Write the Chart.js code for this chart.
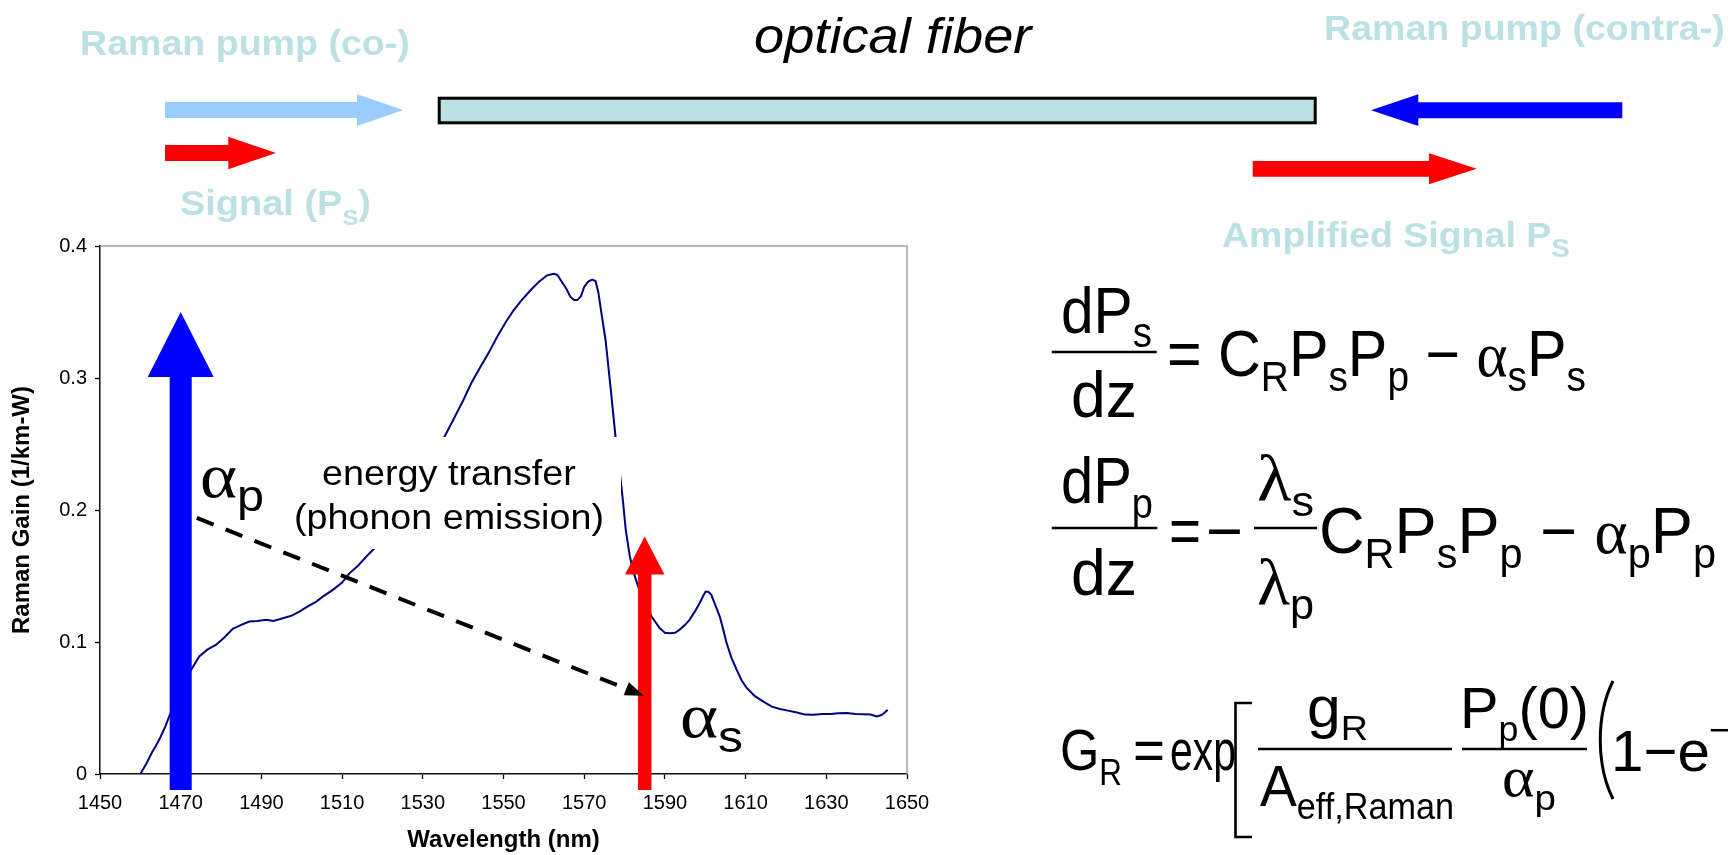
<!DOCTYPE html>
<html>
<head>
<meta charset="utf-8">
<title>Raman gain</title>
<script src="https://cdn.jsdelivr.net/npm/chart.js@4.4.0/dist/chart.umd.min.js"></script>
<style>
  html, body { margin: 0; padding: 0; background: #fff; width: 1728px; height: 855px; overflow: hidden; }
  #wrap { position: relative; width: 1728px; height: 855px; }
  #gainChart { position: absolute; left: 0; top: 200px; }
  #overlay { position: absolute; left: 0; top: 0; pointer-events: none; }
</style>
</head>
<body>
<div id="wrap">
<canvas id="gainChart" width="960" height="655"></canvas>
<svg id="overlay" width="1728" height="855" xmlns="http://www.w3.org/2000/svg" font-family="'Liberation Sans', Arial, sans-serif">
  <!-- fiber diagram -->
  <g font-weight="bold" fill="#BCE1E4" font-size="35">
    <text y="55" data-fit="80 330">Raman pump (co-)</text>
    <text y="215" data-fit="180 191">Signal (P<tspan font-size="22" dy="10">S</tspan><tspan dy="-10">)</tspan></text>
    <text y="40" data-fit="1324 401">Raman pump (contra-)</text>
    <text y="246.7" data-fit="1222 348">Amplified Signal P<tspan font-size="26" dy="10">S</tspan></text>
  </g>
  <text y="53" font-size="50" font-style="italic" data-fit="754 280">optical fiber</text>
  <rect x="439.2" y="98.2" width="876" height="24.6" fill="#BCE1E4" stroke="#000" stroke-width="3"/>
  <polygon points="165,102 357,102 357,94.3 403.3,110 357,126 357,118 165,118" fill="#99CCFF"/>
  <polygon points="165,145 228.3,145 228.3,136.7 276,153 228.3,169.3 228.3,161 165,161" fill="#FF0000"/>
  <polygon points="1371,110.3 1418.3,94.3 1418.3,102.3 1622.3,102.3 1622.3,118.3 1418.3,118.3 1418.3,126" fill="#0000FF"/>
  <polygon points="1252.7,161 1429,161 1429,153.3 1476.7,168.8 1429,184.3 1429,176.7 1252.7,176.7" fill="#FF0000"/>

  <!-- chart annotations -->
  <rect x="288" y="437" width="333" height="112" fill="#fff"/>
  <text y="485" font-size="36" data-fit="322 254">energy transfer</text>
  <text y="529" font-size="36" data-fit="294 310">(phonon emission)</text>
  <text y="497" data-fit="200 64"><tspan font-family="'Liberation Serif', serif" font-size="64">α</tspan><tspan font-size="44" dy="14">p</tspan></text>
  <text y="737" data-fit="680 63"><tspan font-family="'Liberation Serif', serif" font-size="64">α</tspan><tspan font-size="44" dy="15">s</tspan></text>

  <!-- equation 1 -->
  <text y="333" font-size="64" data-fit="1061 91">dP<tspan font-size="42" dy="14">s</tspan></text>
  <line x1="1051.7" x2="1156.7" y1="352" y2="352" stroke="#000" stroke-width="2.6"/>
  <text y="417" font-size="64" data-fit="1071 66">dz</text>
  <text y="376" font-size="64" data-fit="1167 419">= C<tspan font-size="42" dy="15">R</tspan><tspan dy="-15">P</tspan><tspan font-size="42" dy="15">s</tspan><tspan dy="-15">P</tspan><tspan font-size="42" dy="15">p</tspan><tspan dy="-15"> − </tspan><tspan font-family="'Liberation Serif', serif">α</tspan><tspan font-size="42" dy="15">s</tspan><tspan dy="-15">P</tspan><tspan font-size="42" dy="15">s</tspan></text>

  <!-- equation 2 -->
  <text y="503" font-size="64" data-fit="1061 92">dP<tspan font-size="42" dy="15">p</tspan></text>
  <line x1="1051.7" x2="1157.3" y1="528" y2="528" stroke="#000" stroke-width="2.6"/>
  <text y="595" font-size="64" data-fit="1071 66">dz</text>
  <text y="553" font-size="64" data-fit="1169 32">=</text>
  <text y="553" font-size="64" data-fit="1206 37">−</text>
  <line x1="1254" x2="1317" y1="528" y2="528" stroke="#000" stroke-width="2.6"/>
  <text y="500" data-fit="1257 57"><tspan font-family="'Liberation Serif', serif" font-size="66">λ</tspan><tspan font-size="42" dy="16">s</tspan></text>
  <text y="604" data-fit="1257 57"><tspan font-family="'Liberation Serif', serif" font-size="66">λ</tspan><tspan font-size="42" dy="15">p</tspan></text>
  <text y="553" font-size="64" data-fit="1319 397">C<tspan font-size="42" dy="15">R</tspan><tspan dy="-15">P</tspan><tspan font-size="42" dy="15">s</tspan><tspan dy="-15">P</tspan><tspan font-size="42" dy="15">p</tspan><tspan dy="-15"> − </tspan><tspan font-family="'Liberation Serif', serif">α</tspan><tspan font-size="42" dy="15">p</tspan><tspan dy="-15">P</tspan><tspan font-size="42" dy="15">p</tspan></text>

  <!-- equation 3 -->
  <text y="770" font-size="58" data-fit="1060 62">G<tspan font-size="36" dy="15">R</tspan></text>
  <text y="770" font-size="58" data-fit="1133 32">=</text>
  <text y="770" font-size="58" data-fit="1170 66">exp</text>
  <path d="M1252 703 H1235.5 V837 H1252" fill="none" stroke="#000" stroke-width="2.6"/>
  <line x1="1258" x2="1452" y1="749" y2="749" stroke="#000" stroke-width="2.4"/>
  <text y="727" font-size="58" data-fit="1307 61">g<tspan font-size="36" dy="13">R</tspan></text>
  <text y="806" font-size="58" data-fit="1260 194">A<tspan font-size="36" dy="13">eff,Raman</tspan></text>
  <line x1="1462" x2="1587" y1="749" y2="749" stroke="#000" stroke-width="2.4"/>
  <text y="728" font-size="58" data-fit="1460 129">P<tspan font-size="36" dy="13">p</tspan><tspan dy="-13">(0)</tspan></text>
  <text y="796" data-fit="1502 54"><tspan font-family="'Liberation Serif', serif" font-size="58">α</tspan><tspan font-size="36" dy="14">p</tspan></text>
  <path d="M1613 681 C1596 715 1596 765 1613 799" fill="none" stroke="#000" stroke-width="3"/>
  <text y="771" font-size="58" data-fit="1611 99">1−e</text>
  <text x="1709" y="742" font-size="36">−<tspan font-family="'Liberation Serif', serif">α</tspan><tspan font-size="24" dy="7">p</tspan><tspan dy="-7">L</tspan></text>
</svg>
</div>

<script>
// measured Raman gain spectrum (pump at 1470 nm)
const wavelengths = [1460.0, 1461.5, 1463.0, 1463.8, 1465.0, 1466.2, 1467.2, 1468.5, 1470.0, 1471.5,
  1472.6, 1474.6, 1476.5, 1478.8, 1481.0, 1482.9, 1485.0, 1487.0, 1489.0, 1491.2,
  1493.0, 1495.3, 1497.5, 1499.4, 1501.5, 1503.6, 1505.5, 1507.7, 1510.0, 1511.8,
  1514.0, 1516.0, 1518.0, 1520.0, 1523.0, 1526.0, 1529.0, 1532.0, 1535.1, 1537.5,
  1540.0, 1542.0, 1544.3, 1546.5, 1548.4, 1550.5, 1552.5, 1554.5, 1556.7, 1558.8,
  1560.8, 1562.5, 1563.4, 1564.2, 1565.5, 1566.6, 1567.5, 1568.3, 1569.2, 1570.0,
  1571.0, 1572.0, 1572.8, 1573.5, 1574.1, 1575.3, 1576.6, 1577.8, 1578.7, 1579.5,
  1580.3, 1581.3, 1582.3, 1583.4, 1585.0, 1586.7, 1588.7, 1590.0, 1591.2, 1592.5,
  1593.6, 1595.0, 1596.1, 1597.4, 1598.6, 1599.5, 1600.1, 1600.8, 1601.5, 1602.5,
  1603.6, 1604.5, 1605.3, 1606.5, 1607.8, 1609.0, 1610.3, 1612.3, 1614.4, 1616.5,
  1618.5, 1620.5, 1622.7, 1624.8, 1626.8, 1629.0, 1631.0, 1633.0, 1635.1, 1637.2,
  1639.2, 1641.0, 1642.5, 1643.5, 1644.3, 1645.2];
const ramanGain = [0.000, 0.008, 0.017, 0.021, 0.028, 0.036, 0.044, 0.053, 0.063, 0.073,
  0.079, 0.089, 0.094, 0.098, 0.104, 0.110, 0.113, 0.1155, 0.116, 0.1168,
  0.116, 0.118, 0.120, 0.123, 0.127, 0.1306, 0.135, 0.1395, 0.145, 0.152,
  0.158, 0.1647, 0.171, 0.179, 0.192, 0.207, 0.222, 0.238, 0.254, 0.268,
  0.283, 0.296, 0.3085, 0.320, 0.331, 0.342, 0.3513, 0.359, 0.3665, 0.373,
  0.3778, 0.379, 0.378, 0.374, 0.368, 0.3614, 0.359, 0.359, 0.362, 0.369,
  0.373, 0.3746, 0.3735, 0.365, 0.3526, 0.3286, 0.2908, 0.2543, 0.232, 0.210,
  0.185, 0.165, 0.152, 0.142, 0.130, 0.1193, 0.1105, 0.107, 0.1067, 0.107,
  0.1092, 0.113, 0.1168, 0.123, 0.1294, 0.135, 0.1382, 0.138, 0.1357, 0.128,
  0.1193, 0.109, 0.0991, 0.088, 0.0789, 0.071, 0.0651, 0.059, 0.0549, 0.051,
  0.0492, 0.048, 0.0466, 0.045, 0.0449, 0.0455, 0.0454, 0.046, 0.0462, 0.0455,
  0.0452, 0.045, 0.0436, 0.0445, 0.046, 0.0487];

const xTicks = [1450, 1470, 1490, 1510, 1530, 1550, 1570, 1590, 1610, 1630, 1650];
const xTickLabels = ['1450', '1470', '1490', '1510', '1530', '1550', '1570', '1590', '1610', '1630', '1650'];
const yTicks = [0, 0.1, 0.2, 0.3, 0.4];
const yTickLabels = ['0', '0.1', '0.2', '0.3', '0.4'];

// pump (blue) and signal (red) wavelengths, with arrow tip heights
const arrowWavelengths = [1470, 1585];
const arrowTops = [0.35, 0.18];
// energy transfer arrow, from pump to signal
const transferFrom = [1474.0, 0.194];
const transferTo = [1584.8, 0.0593];

const SANS = '"Liberation Sans", Arial, sans-serif';
Chart.defaults.font.family = SANS;

function upArrow(ctx, cx, tipY, baseY, shaftW, headW, headLen, color) {
  ctx.save();
  ctx.fillStyle = color;
  ctx.beginPath();
  ctx.moveTo(cx, tipY);
  ctx.lineTo(cx + headW / 2, tipY + headLen);
  ctx.lineTo(cx + shaftW / 2, tipY + headLen);
  ctx.lineTo(cx + shaftW / 2, baseY);
  ctx.lineTo(cx - shaftW / 2, baseY);
  ctx.lineTo(cx - shaftW / 2, tipY + headLen);
  ctx.lineTo(cx - headW / 2, tipY + headLen);
  ctx.closePath();
  ctx.fill();
  ctx.restore();
}

const annotations = {
  id: 'annotations',
  afterDatasetsDraw(chart) {
    const { ctx, chartArea, scales: { x, y } } = chart;

    // grey frame on top / right like the original plot area
    ctx.save();
    ctx.strokeStyle = '#a0a0a0';
    ctx.lineWidth = 1.5;
    ctx.beginPath();
    ctx.moveTo(chartArea.left, chartArea.top);
    ctx.lineTo(chartArea.right, chartArea.top);
    ctx.lineTo(chartArea.right, chartArea.bottom);
    ctx.stroke();
    ctx.restore();

    const base = chartArea.bottom + 16;
    upArrow(ctx, x.getPixelForValue(arrowWavelengths[0]), y.getPixelForValue(arrowTops[0]), base, 22, 66, 65, '#0000FF');
    upArrow(ctx, x.getPixelForValue(arrowWavelengths[1]), y.getPixelForValue(arrowTops[1]), base, 13.5, 39.5, 38, '#FF0000');

    // dashed energy transfer arrow
    const x0 = x.getPixelForValue(transferFrom[0]), y0 = y.getPixelForValue(transferFrom[1]);
    const x1 = x.getPixelForValue(transferTo[0]), y1 = y.getPixelForValue(transferTo[1]);
    const len = Math.hypot(x1 - x0, y1 - y0);
    const ux = (x1 - x0) / len, uy = (y1 - y0) / len;
    const headLen = 19, headHalf = 7;
    ctx.save();
    ctx.strokeStyle = '#000';
    ctx.lineWidth = 4;
    ctx.setLineDash([18, 13]);
    ctx.beginPath();
    ctx.moveTo(x0, y0);
    ctx.lineTo(x1 - ux * headLen, y1 - uy * headLen);
    ctx.stroke();
    ctx.setLineDash([]);
    ctx.fillStyle = '#000';
    ctx.beginPath();
    ctx.moveTo(x1, y1);
    ctx.lineTo(x1 - ux * headLen - uy * headHalf, y1 - uy * headLen + ux * headHalf);
    ctx.lineTo(x1 - ux * headLen + uy * headHalf, y1 - uy * headLen - ux * headHalf);
    ctx.closePath();
    ctx.fill();
    ctx.restore();
  }
};

const ctx = document.getElementById('gainChart').getContext('2d');
new Chart(ctx, {
  type: 'scatter',
  data: {
    datasets: [{
      data: wavelengths.map((w, i) => ({ x: w, y: ramanGain[i] })),
      showLine: true,
      borderColor: '#000080',
      borderWidth: 2,
      pointRadius: 0,
      tension: 0
    }]
  },
  options: {
    responsive: false,
    animation: false,
    layout: { padding: { top: 46, right: 53, left: 0, bottom: 0 } },
    plugins: { legend: { display: false }, tooltip: { enabled: false } },
    scales: {
      x: {
        type: 'linear',
        min: 1450,
        max: 1650,
        afterBuildTicks: (scale) => { scale.ticks = xTicks.map(v => ({ value: v })); },
        afterFit: (scale) => { scale.height = 81; },
        ticks: {
          color: '#000',
          font: { size: 20 },
          padding: 12,
          maxRotation: 0,
          autoSkip: false,
          callback: (value, index) => xTickLabels[index]
        },
        grid: { display: true, drawOnChartArea: false, drawTicks: true, tickLength: 5, tickColor: '#000', tickWidth: 1.3 },
        border: { display: true, color: '#111', width: 1.5 },
        title: {
          display: true,
          text: 'Wavelength (nm)',
          color: '#000',
          font: { size: 24, weight: 'bold' },
          padding: { top: 0, bottom: 0 }
        }
      },
      y: {
        min: 0,
        max: 0.4,
        afterBuildTicks: (scale) => { scale.ticks = yTicks.map(v => ({ value: v })); },
        afterFit: (scale) => { scale.width = 100; },
        ticks: {
          color: '#000',
          font: { size: 20 },
          padding: 8,
          callback: (value, index) => yTickLabels[index]
        },
        grid: { display: true, drawOnChartArea: false, drawTicks: true, tickLength: 5, tickColor: '#000', tickWidth: 1.3 },
        border: { display: true, color: '#111', width: 1.5 },
        title: {
          display: true,
          text: 'Raman Gain (1/km-W)',
          color: '#000',
          font: { size: 24, weight: 'bold' },
          padding: { top: 8, bottom: 0 }
        }
      }
    }
  },
  plugins: [annotations]
});

// stretch each svg text run to the width it has in the slide
document.querySelectorAll('#overlay [data-fit]').forEach(el => {
  const [left, width] = el.getAttribute('data-fit').split(' ').map(Number);
  const box = el.getBBox();
  const s = width / box.width;
  el.setAttribute('transform', `translate(${left} 0) scale(${s} 1) translate(${-box.x} 0)`);
});
</script>
</body>
</html>
